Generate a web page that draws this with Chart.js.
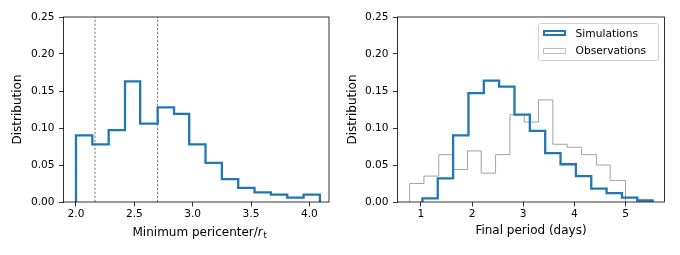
<!DOCTYPE html>
<html>
<head>
<meta charset="utf-8">
<script src="https://cdn.jsdelivr.net/npm/chart.js@4.4.1/dist/chart.umd.min.js"></script>
<style>
  html, body { margin:0; padding:0; background:#fff; }
  #wrap { position:relative; width:680px; height:255px; overflow:hidden; font-family:"DejaVu Sans", sans-serif; }
  #c1 { position:absolute; left:0; top:0; }
  #c2 { position:absolute; left:335px; top:0; }
  #leyenda {
    position:absolute; left:537.5px; top:22.5px; width:121px; height:38px;
    box-sizing:border-box; border:1px solid #d0d0d0; border-radius:2.5px;
    background:rgba(255,255,255,.8); font-size:10.7px; color:#000;
  }
  #leyenda .fila { position:absolute; left:0; height:13px; line-height:13px; white-space:nowrap; }
  #leyenda .caja { position:absolute; left:4px; top:3.5px; width:23.5px; height:6px; box-sizing:border-box; background:#fff; }
  #leyenda .txt { position:absolute; left:37px; top:0; }
</style>
</head>
<body>
<div id="wrap">
  <canvas id="c1" width="340" height="255"></canvas>
  <canvas id="c2" width="345" height="255"></canvas>
  <div id="leyenda"></div>
</div>
<script>
// === Datos ===
// Panel izquierdo: pericentro minimo / r_t
const EDGES_PERI = [2.00, 2.14, 2.28, 2.42, 2.55, 2.70, 2.84, 2.97, 3.11, 3.25, 3.39, 3.53, 3.67, 3.81, 3.95, 4.09];
const DIST_PERI  = [0.090, 0.078, 0.097, 0.163, 0.106, 0.128, 0.119, 0.078, 0.053, 0.031, 0.019, 0.013, 0.010, 0.006, 0.010];
const RT_LINES   = [2.163, 2.699];
const TICKS_PERI = [2.0, 2.5, 3.0, 3.5, 4.0];

// Panel derecho: periodo final (dias)
const EDGES_SIM  = [1.03, 1.33, 1.63, 1.93, 2.23, 2.53, 2.83, 3.13, 3.43, 3.73, 4.03, 4.33, 4.63, 4.93, 5.23, 5.53];
const DIST_SIM   = [0.005, 0.032, 0.090, 0.147, 0.164, 0.156, 0.118, 0.096, 0.066, 0.051, 0.035, 0.018, 0.012, 0.006, 0.002];
const EDGES_OBS  = [0.78, 1.06, 1.35, 1.63, 1.91, 2.18, 2.46, 2.74, 3.02, 3.30, 3.58, 3.86, 4.14, 4.43, 4.70, 5.00];
const DIST_OBS   = [0.025, 0.035, 0.064, 0.044, 0.069, 0.039, 0.064, 0.118, 0.108, 0.138, 0.078, 0.074, 0.064, 0.050, 0.029];
const TICKS_PERIODO = [1, 2, 3, 4, 5];

const TICKS_Y = [0, 0.05, 0.10, 0.15, 0.20, 0.25];

(() => {
  const FAM = '"DejaVu Sans", sans-serif';
  const TICK_PX = 10.6, TITULO_PX = 12;
  Chart.defaults.font.family = FAM;
  Chart.defaults.font.size = TICK_PX;
  Chart.defaults.color = '#000';

  const AZUL = '#1f77b4';
  const GRIS = 'rgba(128,128,128,0.72)';

  // histograma tipo "step": bordes + alturas -> puntos
  function pasos(edges, vals){
    const pts = [{ x: edges[0], y: 0 }];
    vals.forEach((v, i) => pts.push({ x: edges[i], y: v }));
    pts.push({ x: edges[edges.length - 1], y: 0 });
    return pts;
  }

  function serie(label, edges, vals, color, ancho){
    return {
      label, data: pasos(edges, vals), stepped: true,
      borderColor: color, borderWidth: ancho, borderJoinStyle: 'miter',
      pointRadius: 0, fill: false, tension: 0
    };
  }

  // marco completo (4 lados) como en matplotlib
  const marco = {
    id: 'marco',
    afterDraw(chart){
      const { ctx, chartArea: a } = chart;
      ctx.save();
      ctx.strokeStyle = '#000';
      ctx.lineWidth = 0.8;
      ctx.strokeRect(a.left, a.top, a.right - a.left, a.bottom - a.top);
      ctx.restore();
    }
  };

  // titulo x con r cursiva y subindice t
  const tituloPeri = {
    id: 'tituloPeri',
    afterDraw(chart){
      const { ctx, chartArea: a } = chart;
      const partes = [
        { t: 'Minimum pericenter/', f: `${TITULO_PX}px ${FAM}`, dy: 0 },
        { t: 'r', f: `italic ${TITULO_PX}px ${FAM}`, dy: 0 },
        { t: 't', f: `8.4px ${FAM}`, dy: 2.8 }
      ];
      ctx.save();
      let x = a.left + 69;
      const base = 235.6;
      ctx.fillStyle = '#000';
      ctx.textBaseline = 'alphabetic';
      ctx.textAlign = 'left';
      partes.forEach(p => {
        ctx.font = p.f;
        ctx.fillText(p.t, x, base + p.dy);
        x += ctx.measureText(p.t).width + (p.t === 'r' ? 0.6 : 0);
      });
      ctx.restore();
    }
  };

  function escalas(xmin, xmax, xTicks, xDec, anchoY, tituloX){
    const grid = { drawOnChartArea: false, drawTicks: true, tickLength: 4.5, color: '#000', lineWidth: 0.8 };
    const fTit = { size: TITULO_PX, family: FAM };
    return {
      x: {
        type: 'linear', min: xmin, max: xmax,
        afterBuildTicks: s => { s.ticks = xTicks.map(v => ({ value: v })); },
        afterFit: s => { s.height = 53; },
        ticks: { padding: 1.8, maxRotation: 0, color: '#000', callback: v => Number(v).toFixed(xDec) },
        grid, border: { display: false },
        title: { display: !!tituloX, text: tituloX || '', font: fTit, padding: { top: 0, bottom: 16.6 }, color: '#000' }
      },
      y: {
        type: 'linear', min: 0, max: 0.25,
        afterBuildTicks: s => { s.ticks = TICKS_Y.map(v => ({ value: v })); },
        afterFit: s => { s.width = anchoY; },
        ticks: { padding: 4.5, color: '#000', callback: v => Number(v).toFixed(2) },
        grid, border: { display: false },
        title: { display: true, text: 'Distribution', font: fTit, padding: { top: 10.8, bottom: 0 }, color: '#000' }
      }
    };
  }

  const comunes = {
    responsive: false, animation: false, events: [],
    plugins: { legend: { display: false }, tooltip: { enabled: false } }
  };

  // --- panel izquierdo ---
  const datosIzq = [serie('Simulations', EDGES_PERI, DIST_PERI, AZUL, 2.3)];
  RT_LINES.forEach(x => {
    datosIzq.push({
      label: 'r_t', data: [{ x, y: 0 }, { x, y: 0.25 }],
      borderColor: 'rgba(0,0,0,0.65)', borderWidth: 0.8, borderDash: [2.4, 1.6],
      pointRadius: 0, fill: false
    });
  });
  new Chart(document.getElementById('c1'), {
    type: 'line',
    data: { datasets: datosIzq },
    options: {
      ...comunes,
      layout: { padding: { top: 17, right: 11, left: 0, bottom: 0 } },
      scales: escalas(1.893, 4.168, TICKS_PERI, 1, 63.5, null)
    },
    plugins: [marco, tituloPeri]
  });

  // --- panel derecho ---
  const datosDer = [
    serie('Simulations', EDGES_SIM, DIST_SIM, AZUL, 2.3),
    serie('Observations', EDGES_OBS, DIST_OBS, GRIS, 1)
  ];
  new Chart(document.getElementById('c2'), {
    type: 'line',
    data: { datasets: datosDer },
    options: {
      ...comunes,
      layout: { padding: { top: 17, right: 15.5, left: 0, bottom: 0 } },
      scales: escalas(0.543, 5.762, TICKS_PERIODO, 0, 62.5, 'Final period (days)')
    },
    plugins: [marco]
  });

  // leyenda (html, dentro del area del panel derecho)
  const ley = document.getElementById('leyenda');
  const filasTop = [3, 20.5];
  datosDer.forEach((d, i) => {
    const fila = document.createElement('div');
    fila.className = 'fila';
    fila.style.top = filasTop[i] + 'px';
    const caja = document.createElement('span');
    caja.className = 'caja';
    caja.style.border = `${d.borderWidth}px solid ${i === 0 ? d.borderColor : 'rgba(128,128,128,0.5)'}`;
    const txt = document.createElement('span');
    txt.className = 'txt';
    txt.textContent = d.label;
    fila.appendChild(caja);
    fila.appendChild(txt);
    ley.appendChild(fila);
  });
})();
</script>
</body>
</html>
